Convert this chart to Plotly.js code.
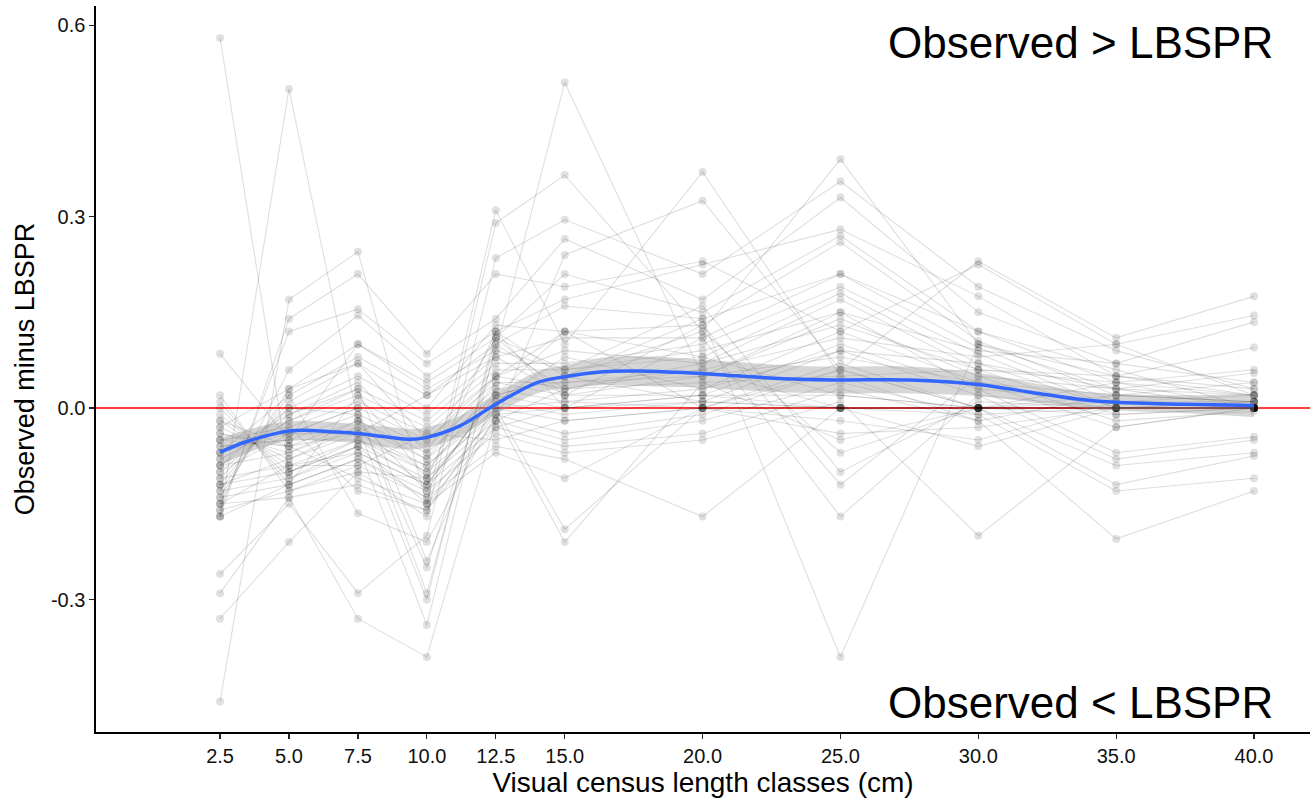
<!DOCTYPE html>
<html>
<head>
<meta charset="utf-8">
<script src="https://cdn.plot.ly/plotly-3.0.1.min.js"></script>
<style>
html,body{margin:0;padding:0;background:#fff;}
#chart{width:1315px;height:802px;}
</style>
</head>
<body>
<div id="chart"></div>
<script>
// Length classes (cm)
var lengthClasses = [2.5, 5.0, 7.5, 10.0, 12.5, 15.0, 20.0, 25.0, 30.0, 35.0, 40.0];
var lengthLabels = ["2.5", "5.0", "7.5", "10.0", "12.5", "15.0", "20.0", "25.0", "30.0", "35.0", "40.0"];

// Observed minus LBSPR, one row per site/species series (estimated from figure)
var siteSeries = [
  [0.58, -0.10, -0.05, -0.12, 0.02, 0.05, 0.01, 0.00, 0.00, 0.00, 0.00],
  [-0.17, 0.50, -0.02, -0.08, 0.05, 0.12, 0.08, 0.02, 0.00, 0.00, 0.00],
  [0.085, -0.05, 0.10, 0.03, 0.09, 0.51, 0.05, 0.15, 0.03, 0.01, 0.00],
  [-0.46, 0.17, 0.245, -0.15, 0.31, 0.10, 0.37, 0.05, -0.02, 0.02, 0.01],
  [-0.33, -0.21, -0.10, -0.17, 0.29, 0.365, 0.12, 0.39, 0.10, 0.05, 0.02],
  [-0.29, -0.14, -0.33, -0.39, -0.02, 0.24, 0.325, 0.06, 0.23, 0.11, 0.175],
  [-0.26, -0.15, -0.29, -0.20, 0.235, 0.295, 0.21, 0.355, 0.19, 0.09, 0.03],
  [-0.17, 0.14, 0.21, 0.085, 0.21, 0.19, 0.23, 0.12, 0.225, 0.10, 0.145],
  [-0.16, 0.12, 0.155, 0.07, 0.14, 0.265, 0.17, 0.33, 0.15, 0.07, 0.135],
  [-0.15, 0.06, 0.145, 0.05, 0.12, 0.17, 0.225, 0.28, 0.175, 0.05, 0.095],
  [-0.14, 0.03, 0.10, 0.04, 0.11, 0.21, 0.15, 0.27, 0.12, 0.04, 0.06],
  [-0.13, 0.02, 0.08, 0.02, 0.10, 0.16, 0.14, -0.39, 0.10, 0.03, 0.055],
  [-0.12, 0.01, 0.07, 0.00, 0.13, 0.12, 0.13, 0.26, 0.105, 0.02, 0.04],
  [-0.11, 0.00, 0.05, -0.01, 0.08, 0.11, 0.11, 0.21, 0.095, 0.01, 0.02],
  [-0.10, -0.01, 0.03, -0.02, 0.07, 0.07, 0.10, 0.19, 0.085, 0.00, 0.01],
  [-0.09, -0.02, 0.02, -0.03, 0.06, 0.06, 0.08, 0.18, 0.07, 0.00, 0.00],
  [-0.08, -0.03, 0.01, -0.04, 0.05, 0.03, 0.07, 0.17, 0.06, -0.01, 0.00],
  [-0.07, -0.04, 0.00, -0.05, 0.04, 0.02, 0.05, 0.14, 0.05, -0.02, -0.005],
  [-0.06, -0.05, -0.01, -0.06, 0.03, 0.01, 0.03, 0.12, 0.04, -0.03, 0.00],
  [-0.05, -0.06, -0.02, -0.07, 0.02, 0.00, 0.02, 0.10, 0.03, -0.07, -0.045],
  [-0.04, -0.07, -0.03, -0.08, 0.01, -0.01, 0.01, 0.09, 0.02, -0.08, -0.05],
  [-0.03, -0.08, -0.04, -0.09, 0.00, -0.02, 0.00, 0.07, 0.00, -0.09, -0.07],
  [-0.02, -0.09, -0.05, -0.10, -0.01, -0.04, -0.01, 0.06, 0.00, -0.12, -0.075],
  [-0.01, -0.10, -0.06, -0.11, -0.02, -0.05, -0.02, 0.04, -0.01, -0.13, -0.11],
  [0.00, -0.11, -0.07, -0.12, -0.03, -0.06, -0.04, 0.03, -0.02, -0.205, -0.13],
  [0.01, -0.12, -0.08, -0.13, -0.04, -0.07, -0.05, 0.01, -0.20, -0.03, 0.00],
  [0.02, -0.13, -0.09, -0.14, -0.06, -0.08, -0.17, 0.00, -0.06, 0.00, 0.00],
  [-0.02, -0.06, -0.11, -0.15, -0.07, -0.11, 0.00, -0.02, -0.05, 0.01, 0.01],
  [-0.05, -0.03, -0.13, -0.16, 0.00, -0.19, 0.00, -0.04, -0.03, 0.00, 0.00],
  [-0.07, 0.02, -0.165, -0.21, -0.01, -0.21, 0.04, -0.05, 0.00, -0.01, 0.00],
  [-0.08, -0.02, 0.03, -0.24, 0.02, 0.05, 0.12, -0.07, 0.00, 0.02, 0.01],
  [-0.09, 0.00, -0.01, -0.25, 0.09, 0.06, 0.16, -0.10, 0.01, 0.00, 0.00],
  [-0.10, -0.04, 0.00, -0.29, 0.11, 0.02, 0.13, -0.12, 0.05, 0.03, 0.00],
  [-0.12, -0.08, -0.03, -0.30, 0.12, 0.00, 0.11, -0.17, 0.02, 0.00, 0.00],
  [-0.13, -0.11, -0.06, -0.34, 0.10, 0.03, 0.06, 0.00, 0.00, 0.04, 0.02],
  [-0.15, -0.14, -0.12, -0.16, -0.03, 0.00, 0.02, 0.02, 0.00, 0.00, 0.00],
  [-0.16, -0.13, -0.10, -0.11, 0.00, 0.01, 0.00, 0.00, -0.01, 0.00, 0.00],
  [-0.14, -0.12, -0.08, -0.14, -0.01, 0.00, 0.01, 0.00, 0.00, 0.01, 0.00],
  [-0.11, -0.09, -0.07, -0.12, 0.02, 0.12, 0.00, 0.06, 0.00, 0.00, 0.01],
  [-0.06, -0.05, -0.05, -0.09, 0.01, 0.08, 0.03, 0.09, 0.07, 0.03, 0.02],
  [-0.04, -0.06, -0.04, -0.10, 0.04, 0.04, 0.05, 0.08, 0.04, 0.02, 0.01],
  [-0.03, 0.03, 0.07, -0.05, 0.05, 0.09, 0.07, 0.13, 0.06, 0.05, 0.03],
  [-0.07, -0.01, 0.04, -0.07, 0.11, 0.06, 0.09, 0.15, 0.09, 0.07, 0.04],
  [-0.09, -0.07, -0.02, -0.13, 0.03, 0.04, 0.06, 0.11, 0.08, 0.10, 0.02],
  [-0.12, -0.10, -0.06, -0.15, -0.02, 0.03, 0.04, 0.05, 0.06, 0.04, 0.00],
  [-0.15, -0.09, -0.09, -0.04, -0.05, -0.02, 0.00, 0.00, 0.00, 0.00, 0.00],
  [-0.05, -0.04, -0.04, 0.02, 0.08, 0.02, 0.02, 0.00, 0.00, 0.00, 0.00],
  [-0.17, -0.12, 0.02, -0.11, 0.12, 0.05, 0.14, 0.21, 0.12, 0.06, 0.00]
];

// Smoothed trend and its standard-error half width
var smoothX  = [2.5, 3.5, 4.5, 5.0, 5.75, 6.5, 7.5, 8.5, 9.4, 10.0, 11.2, 12.5, 14.0, 15.0, 16.4, 17.6, 19.0, 20.0, 21.0, 23.5, 25.0, 27.5, 30.0, 32.0, 33.8, 35.0, 37.5, 40.0];
var smoothY  = [-0.069, -0.052, -0.040, -0.036, -0.035, -0.037, -0.040, -0.045, -0.049, -0.046, -0.028, 0.006, 0.040, 0.049, 0.057, 0.058, 0.056, 0.054, 0.051, 0.045, 0.044, 0.044, 0.037, 0.024, 0.013, 0.009, 0.006, 0.004];
var smoothSE = [0.022, 0.018, 0.016, 0.015, 0.015, 0.015, 0.015, 0.016, 0.016, 0.016, 0.016, 0.016, 0.017, 0.018, 0.021, 0.023, 0.023, 0.022, 0.022, 0.021, 0.021, 0.021, 0.018, 0.015, 0.013, 0.013, 0.014, 0.018];

var FONT = "Liberation Sans, Arial, Helvetica, sans-serif";

var traces = [];
siteSeries.forEach(function (row, i) {
  traces.push({
    x: lengthClasses,
    y: row,
    type: "scatter",
    mode: "lines+markers",
    line: {color: "rgba(0,0,0,0.13)", width: 1.1},
    marker: {color: "rgba(0,0,0,0.12)", size: 8, line: {width: 0}},
    showlegend: false,
    hoverinfo: "skip"
  });
});

var upper = smoothY.map(function (v, i) { return v + smoothSE[i]; });
var lower = smoothY.map(function (v, i) { return v - smoothSE[i]; });

traces.push({
  x: smoothX, y: lower, type: "scatter", mode: "lines",
  line: {width: 0, color: "rgba(0,0,0,0)", shape: "spline"},
  showlegend: false, hoverinfo: "skip"
});
traces.push({
  x: smoothX, y: upper, type: "scatter", mode: "lines",
  fill: "tonexty", fillcolor: "rgba(153,153,153,0.4)",
  line: {width: 0, color: "rgba(0,0,0,0)", shape: "spline"},
  showlegend: false, hoverinfo: "skip"
});
traces.push({
  x: smoothX, y: smoothY, type: "scatter", mode: "lines",
  line: {color: "#3366FF", width: 3.5, shape: "spline"},
  showlegend: false, hoverinfo: "skip"
});

var layout = {
  width: 1315, height: 802,
  margin: {l: 96, r: 5, t: 6, b: 70},
  paper_bgcolor: "#ffffff",
  plot_bgcolor: "#ffffff",
  font: {family: FONT, color: "#000000"},
  showlegend: false,
  hovermode: false,
  xaxis: {
    range: [-2.0, 42.03],
    tickmode: "array",
    tickvals: lengthClasses,
    ticktext: lengthLabels,
    showgrid: false, zeroline: false,
    showline: true, linecolor: "#000000", linewidth: 1.6,
    ticks: "outside", ticklen: 5, tickwidth: 1.2, tickcolor: "#222222",
    tickfont: {family: FONT, size: 20, color: "#111111"},
    title: {text: "Visual census length classes (cm)", font: {family: FONT, size: 28, color: "#000000"}, standoff: 2}
  },
  yaxis: {
    range: [-0.5076, 0.630],
    tickmode: "array",
    tickvals: [-0.3, 0.0, 0.3, 0.6],
    ticktext: ["-0.3", "0.0", "0.3", "0.6"],
    showgrid: false, zeroline: false,
    showline: true, linecolor: "#000000", linewidth: 1.6,
    ticks: "outside", ticklen: 5, tickwidth: 1.2, tickcolor: "#222222",
    tickfont: {family: FONT, size: 20, color: "#111111"},
    title: {text: "Observed minus LBSPR", font: {family: FONT, size: 27, color: "#000000"}, standoff: 8}
  },
  shapes: [{
    type: "line", xref: "paper", yref: "y", x0: 0, x1: 1, y0: 0, y1: 0,
    line: {color: "#ff0000", width: 1.6}, layer: "below"
  }],
  annotations: [
    {text: "Observed > LBSPR", xref: "paper", yref: "paper", x: 0.971, y: 0.950,
     xanchor: "right", yanchor: "middle", showarrow: false,
     font: {family: FONT, size: 44, color: "#000000"}},
    {text: "Observed < LBSPR", xref: "paper", yref: "paper", x: 0.971, y: 0.040,
     xanchor: "right", yanchor: "middle", showarrow: false,
     font: {family: FONT, size: 44, color: "#000000"}}
  ]
};

Plotly.newPlot("chart", traces, layout, {staticPlot: true, displayModeBar: false});
</script>
</body>
</html>
